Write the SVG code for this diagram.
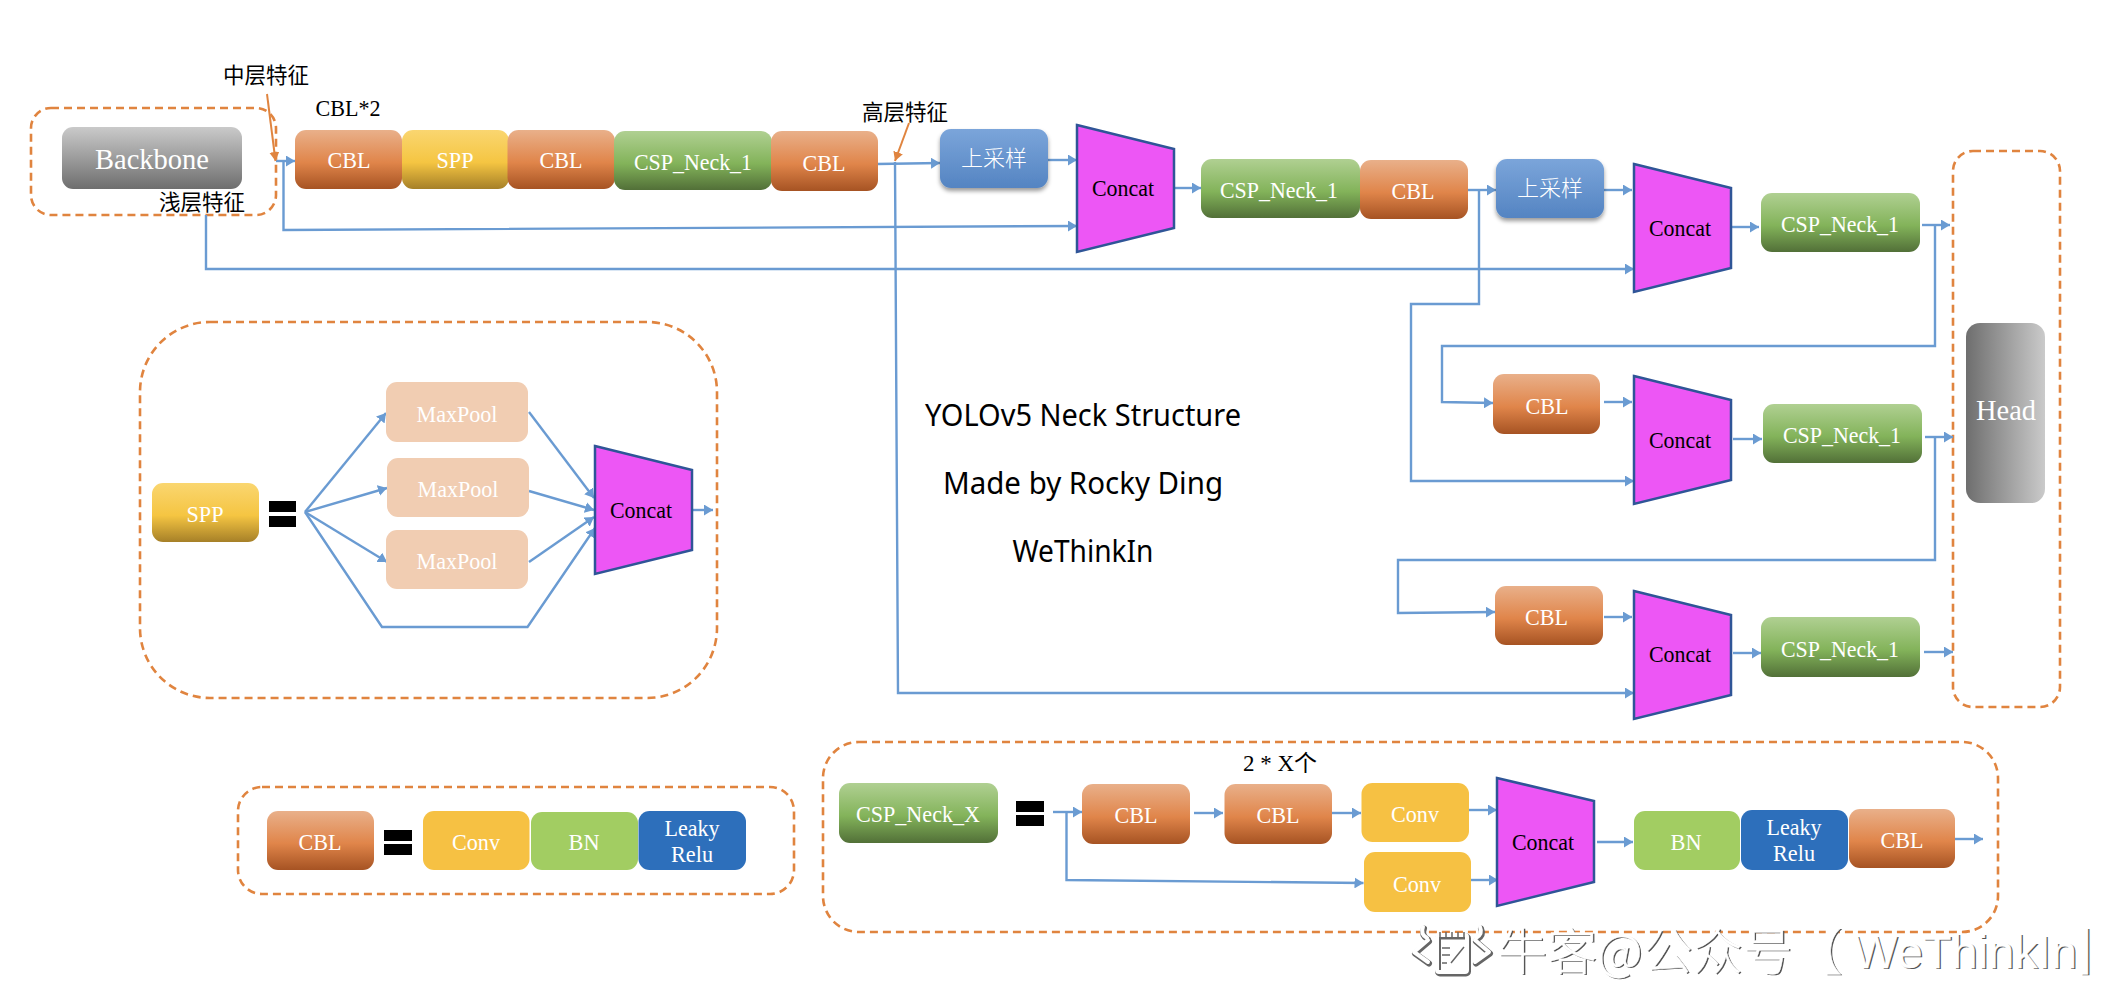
<svg xmlns="http://www.w3.org/2000/svg" width="2106" height="986" viewBox="0 0 2106 986">
<style>
text{font-family:"Liberation Serif","Noto Sans CJK SC",serif;text-anchor:middle}
.w{fill:#fff;font-size:24px}
.k{fill:#000;font-size:24px}
.b{fill:#fff;font-size:30px}
.z{fill:#fff;font-family:"Noto Sans CJK SC",sans-serif;font-size:22px;font-weight:300}
.n{fill:#000;font-family:"Noto Sans CJK SC",sans-serif;font-size:21.500px}
.t{fill:#000;font-family:"Noto Sans","Open Sans",sans-serif;font-size:30px}
.cbl{fill:url(#gCbl)}.spp{fill:url(#gSpp)}.csp{fill:url(#gCsp)}.up{fill:url(#gUp);filter:url(#sh)}
.conv{fill:#f6c143}.bn{fill:#a2cd62}.lr{fill:#2d6fbb}.mp{fill:#f1cdb2}
.cc{fill:#ed56f5;stroke:#2f5597;stroke-width:2.500}
.d{fill:none;stroke:#e0843f;stroke-width:2.600;stroke-dasharray:8 5}
.c{fill:none;stroke:#6a9bd2;stroke-width:2.400}
.a{marker-end:url(#ab)}
.o{fill:none;stroke:#e0843f;stroke-width:2;marker-end:url(#ao)}
.wm{font-family:"Noto Sans CJK SC",sans-serif;font-weight:300;font-size:50px;text-anchor:start}
.wl{font-family:"Liberation Sans",sans-serif;font-size:47px;font-weight:400}
</style>
<defs>
<linearGradient id="gCbl" x1="0" y1="0" x2="0" y2="1"><stop offset="0" stop-color="#e9b08a"/><stop offset=".55" stop-color="#e0854a"/><stop offset="1" stop-color="#a65323"/></linearGradient>
<linearGradient id="gSpp" x1="0" y1="0" x2="0" y2="1"><stop offset="0" stop-color="#fad670"/><stop offset=".55" stop-color="#f5c542"/><stop offset="1" stop-color="#a68028"/></linearGradient>
<linearGradient id="gCsp" x1="0" y1="0" x2="0" y2="1"><stop offset="0" stop-color="#b0d092"/><stop offset=".55" stop-color="#83b35a"/><stop offset="1" stop-color="#527038"/></linearGradient>
<linearGradient id="gUp" x1="0" y1="0" x2="0" y2="1"><stop offset="0" stop-color="#7ba5da"/><stop offset="1" stop-color="#5484c2"/></linearGradient>
<linearGradient id="gBb" x1="0" y1="0" x2="0" y2="1"><stop offset="0" stop-color="#cacaca"/><stop offset="1" stop-color="#6e6e6e"/></linearGradient>
<linearGradient id="gHd" x1="0" y1="0" x2="1" y2="0"><stop offset="0" stop-color="#6e6e6e"/><stop offset="1" stop-color="#cacaca"/></linearGradient>
<filter id="sh" x="-10%" y="-10%" width="120%" height="125%"><feDropShadow dx="0" dy="3" stdDeviation="2" flood-color="#000" flood-opacity=".4"/></filter>
<marker id="ab" markerUnits="userSpaceOnUse" markerWidth="10" markerHeight="11" refX="9" refY="5.500" orient="auto"><path d="M0 0L9 5.500L0 11z" fill="#6a9bd2"/></marker>
<marker id="ao" markerUnits="userSpaceOnUse" markerWidth="10" markerHeight="11" refX="9" refY="5" orient="auto"><path d="M0 0L9 5L0 10z" fill="#e0843f"/></marker>
</defs>

<g id="frames">
<rect class="d" x="31" y="108" width="245" height="107" rx="20"/>
<rect class="d" x="140" y="322" width="577" height="376" rx="70"/>
<rect class="d" x="238" y="787" width="556" height="107" rx="24"/>
<rect class="d" x="823" y="742" width="1175" height="190" rx="36"/>
<rect class="d" x="1953" y="151" width="107" height="556" rx="20"/>
</g>

<g id="connectors">
<path class="c a" d="M276 161H295"/>
<path class="c a" d="M283.500 161V230L1077 226"/>
<path class="c a" d="M206 215V269H1634"/>
<path class="c a" d="M877 164L940 163"/>
<path class="c a" d="M1048 160H1077"/>
<path class="c a" d="M1173 188H1201"/>
<path class="c a" d="M895 162L898 693H1634"/>
<path class="c a" d="M1468 190H1496"/>
<path class="c a" d="M1604 190H1632"/>
<path class="c a" d="M1731 227H1759"/>
<path class="c a" d="M1922 225H1950"/>
<path class="c a" d="M1479 190V304H1411V481H1634"/>
<path class="c a" d="M1935 225V346H1442V402L1493 403"/>
<path class="c a" d="M1604 402H1632"/>
<path class="c a" d="M1733 439H1762"/>
<path class="c a" d="M1925 437H1953"/>
<path class="c a" d="M1935 437V560H1398V613L1495 612"/>
<path class="c a" d="M1604 617H1632"/>
<path class="c a" d="M1733 653H1761"/>
<path class="c a" d="M1924 652H1953"/>
<path class="c a" d="M305 512L386 413"/>
<path class="c a" d="M305 512L387 488"/>
<path class="c a" d="M305 512L387 562"/>
<path class="c a" d="M305 512L382 627H527.500L595 528"/>
<path class="c a" d="M529 412L594 498"/>
<path class="c a" d="M529 491L594 510"/>
<path class="c a" d="M529 562L594 517"/>
<path class="c a" d="M692 510H713"/>
<path class="c a" d="M1053 812H1082"/>
<path class="c a" d="M1066.500 812V880L1363.500 883"/>
<path class="c a" d="M1194 813H1223"/>
<path class="c a" d="M1332 813H1361"/>
<path class="c a" d="M1469 810H1497"/>
<path class="c a" d="M1471 880H1498"/>
<path class="c a" d="M1597 842H1633"/>
<path class="c a" d="M1955 839H1983"/>
<path class="o" d="M267 94L275.500 161"/>
<path class="o" d="M909 123L895 161"/>
</g>

<g id="backbone"><rect x="62" y="127" width="180" height="62" rx="11" fill="url(#gBb)"/><text class="b" x="152" y="169" textLength="114" lengthAdjust="spacingAndGlyphs">Backbone</text></g>
<g id="top-cbl1"><rect class="cbl" x="295" y="130" width="107" height="59" rx="11"/><text class="w" x="349" y="168" textLength="43" lengthAdjust="spacingAndGlyphs">CBL</text></g>
<g id="top-spp"><rect class="spp" x="402" y="130" width="107" height="59" rx="11"/><text class="w" x="455" y="168" textLength="37" lengthAdjust="spacingAndGlyphs">SPP</text></g>
<g id="top-cbl2"><rect class="cbl" x="507.500" y="130" width="107.500" height="59" rx="11"/><text class="w" x="561" y="168" textLength="43" lengthAdjust="spacingAndGlyphs">CBL</text></g>
<g id="top-csp"><rect class="csp" x="614" y="131" width="158" height="59" rx="11"/><text class="w" x="693" y="170" textLength="118" lengthAdjust="spacingAndGlyphs">CSP_Neck_1</text></g>
<g id="top-cbl3"><rect class="cbl" x="771" y="131" width="107" height="60" rx="11"/><text class="w" x="824" y="171" textLength="43" lengthAdjust="spacingAndGlyphs">CBL</text></g>
<g id="up1"><rect class="up" x="940" y="129" width="108" height="59" rx="11"/><text class="z" x="994" y="166">上采样</text></g>
<g id="concat1"><polygon class="cc" points="1077,125 1174,149 1174,228 1077,252"/><text class="k" x="1123" y="196" textLength="62" lengthAdjust="spacingAndGlyphs">Concat</text></g>
<g id="csp2"><rect class="csp" x="1201" y="159" width="159" height="59" rx="11"/><text class="w" x="1279" y="198" textLength="118" lengthAdjust="spacingAndGlyphs">CSP_Neck_1</text></g>
<g id="cbl2"><rect class="cbl" x="1360" y="160" width="108" height="59" rx="11"/><text class="w" x="1413" y="199" textLength="43" lengthAdjust="spacingAndGlyphs">CBL</text></g>
<g id="up2"><rect class="up" x="1496" y="159" width="108" height="59" rx="11"/><text class="z" x="1550" y="196">上采样</text></g>
<g id="concat2"><polygon class="cc" points="1634,164 1731,188 1731,268 1634,292"/><text class="k" x="1680" y="236" textLength="62" lengthAdjust="spacingAndGlyphs">Concat</text></g>
<g id="csp3"><rect class="csp" x="1761" y="193" width="159" height="59" rx="11"/><text class="w" x="1840" y="232" textLength="118" lengthAdjust="spacingAndGlyphs">CSP_Neck_1</text></g>
<g id="cbl-r2"><rect class="cbl" x="1493" y="374" width="107" height="60" rx="11"/><text class="w" x="1547" y="414" textLength="43" lengthAdjust="spacingAndGlyphs">CBL</text></g>
<g id="concat3"><polygon class="cc" points="1634,376 1731,400 1731,480 1634,504"/><text class="k" x="1680" y="448" textLength="62" lengthAdjust="spacingAndGlyphs">Concat</text></g>
<g id="csp-r2"><rect class="csp" x="1763" y="404" width="159" height="59" rx="11"/><text class="w" x="1842" y="443" textLength="118" lengthAdjust="spacingAndGlyphs">CSP_Neck_1</text></g>
<g id="cbl-r3"><rect class="cbl" x="1495" y="586" width="108" height="59" rx="11"/><text class="w" x="1546.500" y="625" textLength="43" lengthAdjust="spacingAndGlyphs">CBL</text></g>
<g id="concat4"><polygon class="cc" points="1634,591 1731,615 1731,695 1634,719"/><text class="k" x="1680" y="662" textLength="62" lengthAdjust="spacingAndGlyphs">Concat</text></g>
<g id="csp-r3"><rect class="csp" x="1761" y="617" width="159" height="60" rx="11"/><text class="w" x="1840" y="657" textLength="118" lengthAdjust="spacingAndGlyphs">CSP_Neck_1</text></g>
<g id="head"><rect x="1966" y="323" width="79" height="180" rx="14" fill="url(#gHd)"/><text class="b" x="2006" y="420" textLength="60" lengthAdjust="spacingAndGlyphs">Head</text></g>

<g id="spp-def"><rect class="spp" x="152" y="483" width="107" height="59" rx="11"/><text class="w" x="205" y="522" textLength="37" lengthAdjust="spacingAndGlyphs">SPP</text></g>
<g id="eq1" fill="#000"><rect x="269" y="501" width="27" height="11"/><rect x="269" y="516" width="27" height="11"/></g>
<g id="mp1"><rect class="mp" x="386" y="382" width="142" height="60" rx="11"/><text class="w" x="457" y="422" textLength="81" lengthAdjust="spacingAndGlyphs">MaxPool</text></g>
<g id="mp2"><rect class="mp" x="387" y="458" width="142" height="59" rx="11"/><text class="w" x="458" y="497" textLength="81" lengthAdjust="spacingAndGlyphs">MaxPool</text></g>
<g id="mp3"><rect class="mp" x="386" y="530" width="142" height="59" rx="11"/><text class="w" x="457" y="569" textLength="81" lengthAdjust="spacingAndGlyphs">MaxPool</text></g>
<g id="concat-spp"><polygon class="cc" points="595,446 692,470 692,550 595,574"/><text class="k" x="641" y="518" textLength="62" lengthAdjust="spacingAndGlyphs">Concat</text></g>

<g id="cbl-def"><rect class="cbl" x="267" y="811" width="107" height="59" rx="11"/><text class="w" x="320" y="850" textLength="43" lengthAdjust="spacingAndGlyphs">CBL</text></g>
<g id="eq2" fill="#000"><rect x="384" y="830" width="28" height="11"/><rect x="384" y="844" width="28" height="11"/></g>
<g id="conv-def"><rect class="conv" x="423" y="811" width="106.500" height="59" rx="11"/><text class="w" x="476" y="850" textLength="48" lengthAdjust="spacingAndGlyphs">Conv</text></g>
<g id="bn-def"><rect class="bn" x="531" y="812" width="107" height="58" rx="11"/><text class="w" x="584" y="850" textLength="31" lengthAdjust="spacingAndGlyphs">BN</text></g>
<g id="lr-def"><rect class="lr" x="638.500" y="811" width="107.500" height="59" rx="11"/><text class="w" x="692" y="836" textLength="55" lengthAdjust="spacingAndGlyphs">Leaky</text><text class="w" x="692" y="862" textLength="42" lengthAdjust="spacingAndGlyphs">Relu</text></g>

<g id="csp-def"><rect class="csp" x="839" y="783" width="159" height="60" rx="11"/><text class="w" x="918" y="822" textLength="124" lengthAdjust="spacingAndGlyphs">CSP_Neck_X</text></g>
<g id="eq3" fill="#000"><rect x="1016" y="801" width="28" height="11"/><rect x="1016" y="815" width="28" height="11"/></g>
<g id="cbl-a"><rect class="cbl" x="1082" y="784" width="108" height="60" rx="11"/><text class="w" x="1136" y="823" textLength="43" lengthAdjust="spacingAndGlyphs">CBL</text></g>
<g id="cbl-b"><rect class="cbl" x="1224.500" y="784" width="107.500" height="60" rx="11"/><text class="w" x="1278" y="823" textLength="43" lengthAdjust="spacingAndGlyphs">CBL</text></g>
<g id="conv-a"><rect class="conv" x="1361.500" y="783" width="107.500" height="59" rx="11"/><text class="w" x="1415" y="822" textLength="48" lengthAdjust="spacingAndGlyphs">Conv</text></g>
<g id="conv-b"><rect class="conv" x="1364" y="852" width="107" height="60" rx="11"/><text class="w" x="1417" y="892" textLength="48" lengthAdjust="spacingAndGlyphs">Conv</text></g>
<g id="concat5"><polygon class="cc" points="1497,778 1594,801 1594,882 1497,906"/><text class="k" x="1543" y="850" textLength="62" lengthAdjust="spacingAndGlyphs">Concat</text></g>
<g id="bn-b"><rect class="bn" x="1634" y="811" width="106" height="59" rx="11"/><text class="w" x="1686" y="850" textLength="31" lengthAdjust="spacingAndGlyphs">BN</text></g>
<g id="lr-b"><rect class="lr" x="1741" y="810" width="107" height="60" rx="11"/><text class="w" x="1794" y="835" textLength="55" lengthAdjust="spacingAndGlyphs">Leaky</text><text class="w" x="1794" y="861" textLength="42" lengthAdjust="spacingAndGlyphs">Relu</text></g>
<g id="cbl-c"><rect class="cbl" x="1849" y="809" width="106" height="59" rx="11"/><text class="w" x="1902" y="848" textLength="43" lengthAdjust="spacingAndGlyphs">CBL</text></g>

<g id="labels">
<text class="n" x="266" y="83">中层特征</text>
<text class="k" x="348" y="116" textLength="65" lengthAdjust="spacingAndGlyphs">CBL*2</text>
<text class="n" x="202" y="210">浅层特征</text>
<text class="n" x="905" y="120">高层特征</text>
<text x="1280" y="771" font-size="23">2 * X个</text>
<text class="t" x="1083" y="426" textLength="316" lengthAdjust="spacingAndGlyphs">YOLOv5 Neck Structure</text>
<text class="t" x="1083" y="494" textLength="280" lengthAdjust="spacingAndGlyphs">Made by Rocky Ding</text>
<text class="t" x="1083" y="562" textLength="141" lengthAdjust="spacingAndGlyphs">WeThinkIn</text>
</g>

<g id="watermark">
<g fill="none" stroke="#666" stroke-width="6" stroke-linecap="round" stroke-linejoin="round" transform="translate(1 1.500)"><path d="M1428 940L1414 952L1428 962M1475 940L1489 952L1475 962M1423 927Q1420 934 1427 938M1480 927Q1483 934 1476 938"/><rect x="1437" y="935" width="30" height="37" rx="2"/></g>
<g fill="none" stroke="#fff" stroke-width="4" stroke-linecap="round" stroke-linejoin="round"><path d="M1428 940L1414 952L1428 962M1475 940L1489 952L1475 962M1423 927Q1420 934 1427 938M1480 927Q1483 934 1476 938"/><rect x="1437" y="935" width="30" height="37" rx="2"/></g>
<g stroke="#666" stroke-width="1.500" fill="none"><path d="M1440 932V938M1446 932V938M1452 932V938M1458 932V938M1464 932V938M1442 948H1450M1442 955H1450M1442 963H1447M1451 963L1464 947"/></g>
<text class="wm" fill="#555"><tspan x="1498.500" y="971.200">牛客@公众号【</tspan><tspan class="wl" x="1854.500" y="969.200">WeThinkIn</tspan></text>
<text class="wm" fill="#fff" stroke="#fff" stroke-width=".4"><tspan x="1497" y="970">牛客@公众号【</tspan><tspan class="wl" x="1853" y="968">WeThinkIn</tspan></text>
<text class="wm" fill="#555" transform="translate(2081.500 971.200) scale(.48 1)">】</text>
<text class="wm" fill="#fff" stroke="#fff" stroke-width=".4" transform="translate(2080 970) scale(.48 1)">】</text>
</g>
</svg>
